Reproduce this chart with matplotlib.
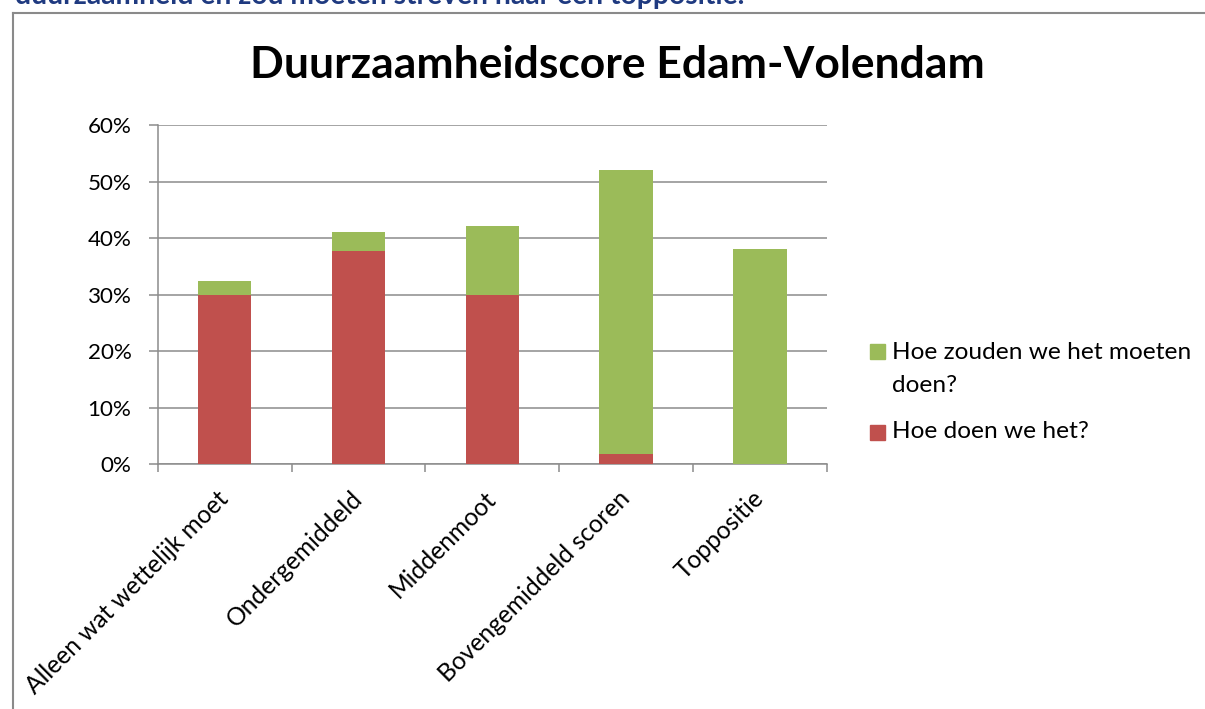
import matplotlib
matplotlib.use("Agg")
import matplotlib.pyplot as plt
from matplotlib.font_manager import FontProperties
from matplotlib.patches import Rectangle
from matplotlib.lines import Line2D
from matplotlib.transforms import ScaledTranslation
from matplotlib.ticker import FuncFormatter, FixedLocator

# ---- data ----
categories = ['Alleen wat wettelijk moet', 'Ondergemiddeld', 'Middenmoot',
              'Bovengemiddeld scoren', 'Toppositie']
hoe_doen = [0.300, 0.377, 0.300, 0.018, 0.000]       # red: Hoe doen we het?
hoe_zouden = [0.024, 0.034, 0.121, 0.502, 0.380]     # green (stacked on red)
yticks = [0.0, 0.1, 0.2, 0.3, 0.4, 0.5, 0.6]
series_labels = ['Hoe zouden we het moeten doen?', 'Hoe doen we het?']
title = 'Duurzaamheidscore Edam-Volendam'
top_text = 'duurzaamheid en zou moeten streven naar een toppositie.'

RED = '#C0504D'
GREEN = '#9BBB59'
GRID = '#8C8C8C'
FONT = 'Lato'

W, H, DPI = 1205, 709, 100
fig = plt.figure(figsize=(W / DPI, H / DPI), dpi=DPI)
fig.patch.set_facecolor('white')
renderer = fig.canvas.get_renderer()


def fit(s, target_px, weight='normal'):
    fp = FontProperties(family=FONT, weight=weight, size=100)
    w, h, d = renderer.get_text_width_height_descent(s, fp, ismath=False)
    return 100.0 * target_px / w


def fx(px):
    return px / W


def fy(py):
    return 1 - py / H


# axes placement (pixels measured from reference)
left, right, top, bottom = 157.7, 827.0, 125.0, 464.3
ax = fig.add_axes([fx(left), fy(bottom), fx(right - left), (bottom - top) / H])

x = list(range(len(categories)))
ax.bar(x, hoe_doen, width=0.4, color=RED, zorder=3)
ax.bar(x, hoe_zouden, width=0.4, bottom=hoe_doen, color=GREEN, zorder=3)

ax.set_xlim(-0.5, len(categories) - 0.5)
ax.set_ylim(0, 0.6)
ax.set_yticks(yticks)
ax.yaxis.set_major_formatter(FuncFormatter(lambda v, p: f'{v * 100:.0f}%'))
ax.yaxis.grid(True, color=GRID, linewidth=1.1)
ax.set_axisbelow(True)

for s in ['top', 'right']:
    ax.spines[s].set_visible(False)
for s in ['left', 'bottom']:
    ax.spines[s].set_color(GRID)
    ax.spines[s].set_linewidth(1.1)

ytick_size = fit('60%', 44)
ax.tick_params(axis='y', direction='out', length=6.3, width=1.1, color=GRID,
               pad=12.5, labelsize=ytick_size, labelcolor='black')
for lab in ax.get_yticklabels():
    lab.set_fontfamily(FONT)

# x: category labels without ticks, minor ticks at boundaries
ax.set_xticks(x)
xlab_size = fit('Alleen wat wettelijk moet', 276)
ax.set_xticklabels(categories, rotation=45, ha='right', va='top',
                   rotation_mode='anchor', fontsize=xlab_size, fontfamily=FONT)
ax.tick_params(axis='x', which='major', length=0, pad=16)
ax.xaxis.set_minor_locator(FixedLocator([i - 0.5 for i in range(len(categories) + 1)]))
ax.tick_params(axis='x', which='minor', direction='out', length=5.8, width=1.1, color=GRID)
for lab in ax.get_xticklabels():
    lab.set_transform(lab.get_transform() + ScaledTranslation(-8 / DPI, 0, fig.dpi_scale_trans))

# title
fig.text(fx(617), fy(78.3), title, ha='center', va='baseline',
         fontsize=fit(title, 734, 'bold'), fontweight='bold', fontfamily=FONT, color='black')

# cut-off paragraph text at the very top
fig.text(fx(15), fy(4.0), top_text, ha='left', va='baseline',
         fontsize=fit(top_text, 728, 'bold'), fontweight='bold', fontfamily=FONT, color='#1F3A80')

# chart frame (left and top edges visible)
fig.add_artist(Line2D([fx(13), fx(13)], [fy(13), fy(H + 5)], color='#8A8A8A', linewidth=1.5))
fig.add_artist(Line2D([fx(13), fx(W + 5)], [fy(13), fy(13)], color='#8A8A8A', linewidth=1.5))

# legend (manual)
leg_size = fit('Hoe zouden we het moeten', 298)
sq = 15
fig.add_artist(Rectangle((fx(870), fy(351 + sq / 2)), fx(sq), sq / H, color=GREEN))
fig.add_artist(Rectangle((fx(870), fy(432 + sq / 2)), fx(sq), sq / H, color=RED))
g1, g2 = 'Hoe zouden we het moeten', 'doen?'
fig.text(fx(892), fy(359), g1, ha='left', va='baseline', fontsize=leg_size, fontfamily=FONT)
fig.text(fx(892), fy(391.5), g2, ha='left', va='baseline', fontsize=leg_size, fontfamily=FONT)
fig.text(fx(892), fy(438), series_labels[1], ha='left', va='baseline', fontsize=leg_size, fontfamily=FONT)

fig.savefig('out.png', dpi=DPI, facecolor='white')
